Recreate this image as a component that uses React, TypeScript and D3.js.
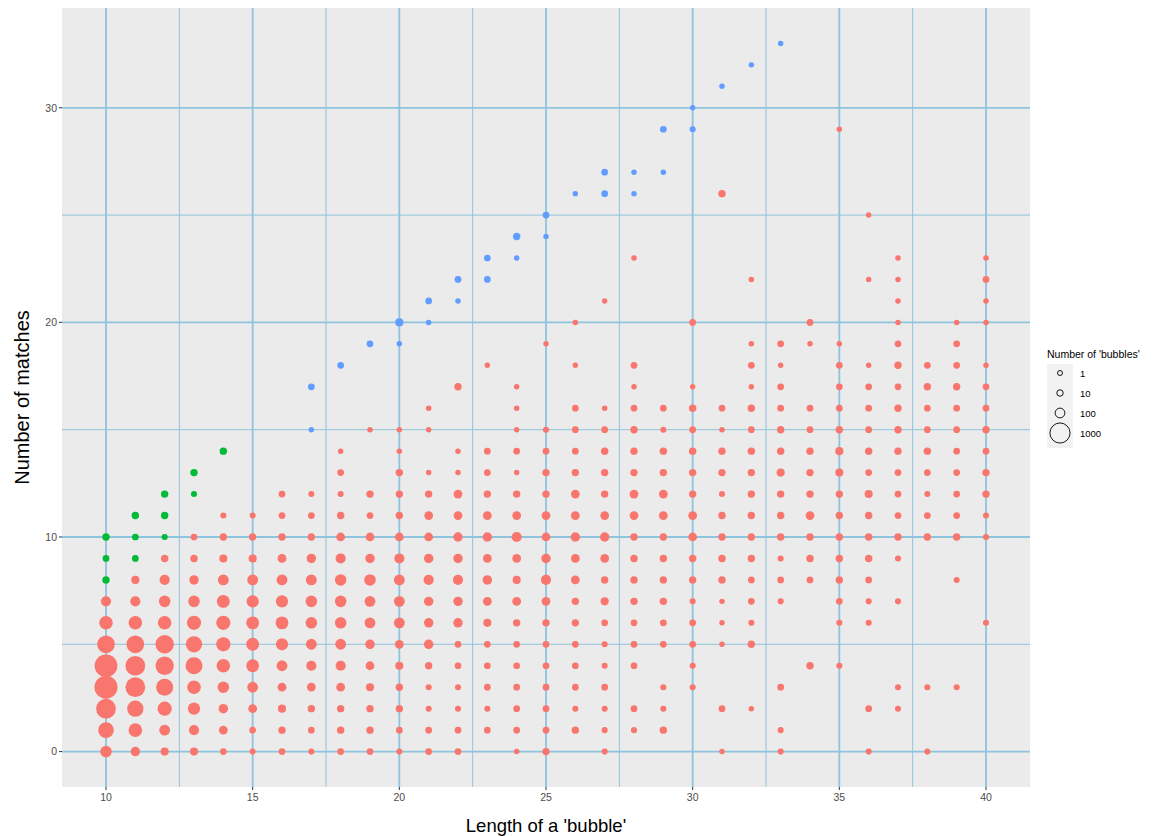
import React from "react";
import * as d3 from "d3";

// Length of a 'bubble' (x categories)
const lengths = [10, 11, 12, 13, 14, 15, 16, 17, 18, 19, 20, 21, 22, 23, 24, 25, 26, 27, 28, 29, 30, 31, 32, 33, 34, 35, 36, 37, 38, 39, 40];

// Red group: number of bubbles per number of matches (index = matches 0,1,2,...), one row per length
const redCounts: number[][] = [
  [187, 494, 951, 1420, 1380, 704, 321, 117],
  [88, 321, 560, 951, 951, 704, 321, 117, 43],
  [43, 150, 375, 630, 782, 782, 321, 187, 117, 26],
  [43, 117, 227, 321, 630, 560, 375, 187, 88, 26, 14],
  [14, 63, 88, 187, 321, 375, 375, 272, 150, 43, 26, 6],
  [6, 14, 63, 150, 272, 272, 272, 227, 150, 43, 26, 6],
  [14, 26, 43, 63, 150, 227, 272, 227, 150, 63, 26, 14, 14],
  [6, 14, 26, 63, 117, 150, 187, 187, 150, 88, 26, 14, 6],
  [14, 26, 26, 63, 117, 150, 187, 187, 187, 117, 63, 26, 6, 14, 2],
  [14, 26, 26, 43, 63, 88, 150, 150, 187, 88, 63, 14, 26, 0, 0, 2],
  [6, 14, 26, 26, 43, 63, 150, 150, 150, 117, 63, 26, 26, 26, 2, 2],
  [14, 14, 6, 6, 26, 88, 88, 88, 117, 88, 63, 63, 26, 2, 0, 2, 2],
  [14, 14, 6, 6, 14, 14, 88, 88, 117, 88, 88, 63, 63, 2, 2, 0, 0, 26],
  [0, 14, 6, 14, 14, 14, 43, 63, 88, 63, 88, 63, 26, 14, 14, 0, 0, 0, 2],
  [2, 14, 14, 14, 14, 14, 26, 63, 43, 63, 117, 63, 26, 2, 14, 2, 2, 2],
  [26, 14, 14, 14, 14, 14, 26, 63, 117, 88, 63, 63, 26, 26, 14, 6, 0, 0, 0, 2],
  [0, 26, 6, 14, 14, 14, 26, 26, 63, 63, 88, 63, 63, 26, 14, 14, 14, 0, 2, 0, 2],
  [6, 6, 6, 14, 6, 6, 14, 43, 26, 63, 88, 63, 26, 26, 26, 14, 2, 0, 0, 0, 0, 2],
  [0, 6, 14, 0, 14, 14, 14, 26, 26, 26, 26, 63, 63, 26, 26, 26, 14, 2, 14, 0, 0, 0, 0, 2],
  [0, 26, 6, 6, 0, 14, 14, 26, 26, 26, 26, 63, 63, 26, 26, 6, 14],
  [0, 0, 0, 6, 6, 14, 14, 6, 26, 26, 63, 63, 26, 26, 26, 14, 26, 2, 0, 0, 14],
  [2, 0, 14, 0, 0, 2, 2, 2, 26, 26, 26, 26, 6, 26, 26, 2, 14, 0, 0, 0, 0, 0, 0, 0, 0, 0, 26],
  [0, 0, 2, 0, 0, 26, 6, 14, 14, 26, 26, 26, 26, 26, 26, 14, 26, 2, 14, 2, 0, 0, 2],
  [6, 6, 0, 14, 0, 0, 0, 6, 14, 6, 26, 26, 26, 43, 26, 26, 14, 14, 2, 14],
  [0, 0, 0, 0, 26, 0, 0, 0, 14, 26, 26, 63, 26, 26, 26, 14, 14, 0, 0, 2, 14],
  [0, 0, 0, 0, 6, 0, 6, 14, 26, 26, 26, 26, 26, 43, 43, 26, 14, 14, 14, 2, 0, 0, 0, 0, 0, 0, 0, 0, 0, 2],
  [6, 0, 14, 0, 0, 0, 6, 6, 14, 26, 26, 26, 43, 14, 26, 14, 14, 14, 2, 0, 0, 0, 2, 0, 0, 2],
  [0, 0, 6, 6, 0, 0, 0, 6, 0, 6, 26, 14, 14, 14, 26, 26, 26, 14, 26, 14, 2, 2, 2, 2],
  [6, 0, 0, 6, 0, 0, 0, 0, 0, 0, 26, 14, 6, 14, 26, 14, 14, 26, 14],
  [0, 0, 0, 6, 0, 0, 0, 0, 6, 0, 26, 14, 14, 14, 14, 14, 14, 26, 14, 14, 2],
  [0, 0, 0, 0, 0, 0, 6, 0, 0, 0, 6, 6, 26, 26, 14, 26, 14, 14, 2, 0, 2, 2, 14, 2],
];

// Green group: [length, matches, bubbles]
const greenPoints: [number, number, number][] = [
  [10, 8, 26], [10, 9, 14], [10, 10, 26], [11, 9, 14], [11, 10, 14], [11, 11, 26],
  [12, 10, 6], [12, 11, 26], [12, 12, 26], [13, 12, 6], [13, 13, 26], [14, 14, 26],
];

// Blue group: [length, matches, bubbles]
const bluePoints: [number, number, number][] = [
  [17, 15, 2], [17, 17, 14], [18, 18, 14], [19, 19, 14], [20, 19, 2], [20, 20, 43],
  [21, 20, 2], [21, 21, 14], [22, 21, 2], [22, 22, 14], [23, 22, 14], [23, 23, 14],
  [24, 23, 2], [24, 24, 26], [25, 24, 2], [25, 25, 14], [26, 26, 2], [27, 26, 14],
  [27, 27, 14], [28, 26, 2], [28, 27, 2], [29, 27, 2], [29, 29, 14], [30, 29, 6],
  [30, 30, 2], [31, 31, 2], [32, 32, 2], [33, 33, 2],
];

const xTicks = [10, 15, 20, 25, 30, 35, 40];
const xMinor = [12.5, 17.5, 22.5, 27.5, 32.5, 37.5];
const yTicks = [0, 10, 20, 30];
const yMinor = [5, 15, 25];
const legendBreaks = [1, 10, 100, 1000];

const COLORS: Record<string, string> = { red: "#F8766D", green: "#00BA38", blue: "#619CFF" };

type Pt = { x: number; y: number; n: number; g: string };

export default function App() {
  const W = 1158, H = 836;
  const left = 62, right = 1030, top = 8, bottom = 787;

  const pts: Pt[] = [];
  redCounts.forEach((col, i) => {
    col.forEach((n, j) => {
      if (n > 0) pts.push({ x: lengths[i], y: j, n, g: "red" });
    });
  });
  greenPoints.forEach(([x, y, n]) => pts.push({ x, y, n, g: "green" }));
  bluePoints.forEach(([x, y, n]) => pts.push({ x, y, n, g: "blue" }));

  const xMin = d3.min(lengths)!, xMax = d3.max(lengths)!;
  const yMax = d3.max(pts, (p) => p.y)!;
  const xPad = (xMax - xMin) * 0.05, yPad = yMax * 0.05;
  const x = d3.scaleLinear().domain([xMin - xPad, xMax + xPad]).range([left, right]);
  const y = d3.scaleLinear().domain([0 - yPad, yMax + yPad]).range([bottom, top]);

  const maxN = d3.max(pts, (p) => p.n)!;
  const area = d3.scaleSqrt().domain([0, maxN - 1]).range([0, 9]);
  const r = (n: number) => 2.5 + area(n - 1);

  const grid = "#8EC4DD";
  const font = "Liberation Sans, Arial, sans-serif";

  const legX = 1047;
  const keyCenters = [373, 393, 413, 433];

  return (
    <svg width={W} height={H} style={{ position: "absolute", left: 0, top: 0, background: "#fff" }}>
      <rect x={left} y={top} width={right - left} height={bottom - top} fill="#EBEBEB" />
      {xMinor.map((v) => (
        <line key={"xm" + v} x1={x(v)} x2={x(v)} y1={top} y2={bottom} stroke={grid} strokeWidth={1} />
      ))}
      {yMinor.map((v) => (
        <line key={"ym" + v} x1={left} x2={right} y1={y(v)} y2={y(v)} stroke={grid} strokeWidth={1} />
      ))}
      {xTicks.map((v) => (
        <line key={"xM" + v} x1={x(v)} x2={x(v)} y1={top} y2={bottom} stroke={grid} strokeWidth={1.8} />
      ))}
      {yTicks.map((v) => (
        <line key={"yM" + v} x1={left} x2={right} y1={y(v)} y2={y(v)} stroke={grid} strokeWidth={1.8} />
      ))}
      {pts.map((p, i) => (
        <circle key={i} cx={x(p.x)} cy={y(p.y)} r={r(p.n)} fill={COLORS[p.g]} />
      ))}
      {/* axes ticks */}
      {xTicks.map((v) => (
        <g key={"xt" + v}>
          <line x1={x(v)} x2={x(v)} y1={bottom} y2={bottom + 3} stroke="#333" strokeWidth={1} />
          <text x={x(v)} y={bottom + 14} textAnchor="middle" fontSize={10.5} fill="#4D4D4D" fontFamily={font}>{v}</text>
        </g>
      ))}
      {yTicks.map((v) => (
        <g key={"yt" + v}>
          <line x1={left - 3} x2={left} y1={y(v)} y2={y(v)} stroke="#333" strokeWidth={1} />
          <text x={left - 5} y={y(v) + 3.8} textAnchor="end" fontSize={10.5} fill="#4D4D4D" fontFamily={font}>{v}</text>
        </g>
      ))}
      <text x={(left + right) / 2} y={832} textAnchor="middle" fontSize={18.5} fill="#000" fontFamily={font}>Length of a 'bubble'</text>
      <text transform={`translate(29,${(top + bottom) / 2}) rotate(-90)`} textAnchor="middle" fontSize={20} fill="#000" fontFamily={font}>Number of matches</text>
      {/* legend */}
      <text x={legX} y={358} fontSize={10.5} fill="#000" fontFamily={font}>Number of 'bubbles'</text>
      <rect x={legX} y={364} width={26} height={84} fill="#F2F2F2" />
      {legendBreaks.map((b, i) => (
        <g key={"lg" + b}>
          <circle cx={legX + 13} cy={keyCenters[i]} r={r(b)} fill="none" stroke="#000" strokeWidth={0.9} />
          <text x={legX + 33} y={keyCenters[i] + 3.6} fontSize={9.5} fill="#000" fontFamily={font}>{b}</text>
        </g>
      ))}
    </svg>
  );
}
